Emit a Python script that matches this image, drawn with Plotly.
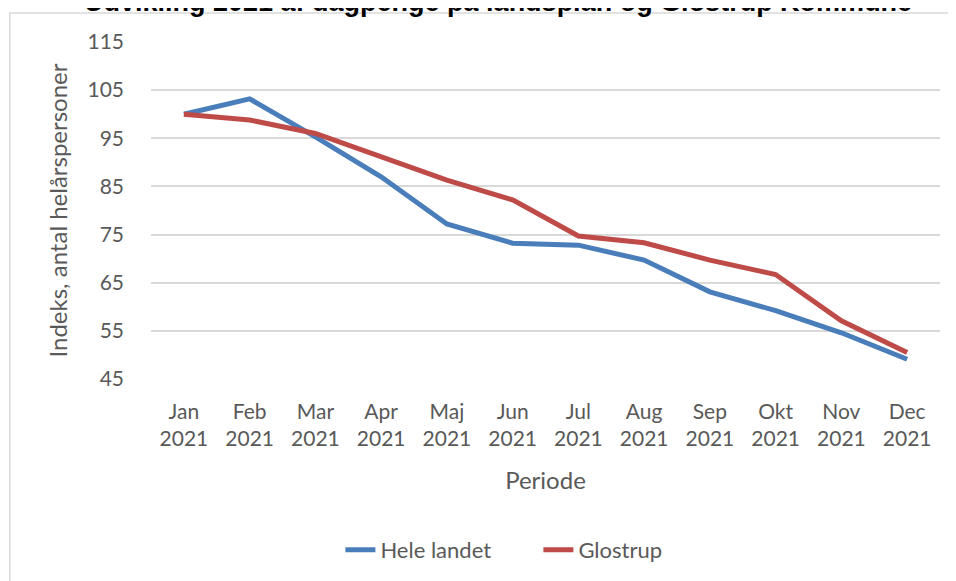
import plotly.graph_objects as go

months = ["Jan<br>2021", "Feb<br>2021", "Mar<br>2021", "Apr<br>2021", "Maj<br>2021", "Jun<br>2021",
          "Jul<br>2021", "Aug<br>2021", "Sep<br>2021", "Okt<br>2021", "Nov<br>2021", "Dec<br>2021"]
hele_landet = [100.0, 103.2, 95.3, 87.0, 77.2, 73.2, 72.8, 69.7, 63.1, 59.2, 54.6, 49.1]
glostrup = [100.0, 98.8, 96.0, 91.2, 86.3, 82.2, 74.7, 73.3, 69.7, 66.7, 57.1, 50.5]

FONT = "Lato, Carlito, Calibri, sans-serif"
TXT = "#595959"

fig = go.Figure()
fig.add_trace(go.Scatter(x=months, y=hele_landet, mode="lines", name="Hele landet",
                         line=dict(color="#4a7ebb", width=5)))
fig.add_trace(go.Scatter(x=months, y=glostrup, mode="lines", name="Glostrup",
                         line=dict(color="#be4b48", width=5)))

# page body has an 8px margin, so margins are shifted to compensate
fig.update_layout(
    width=956, height=581,
    margin=dict(l=143, r=24, t=34, b=210),
    plot_bgcolor="white", paper_bgcolor="white",
    font=dict(family=FONT, color=TXT, size=21),
    showlegend=True,
    legend=dict(orientation="h", x=0.491, xanchor="center", y=-0.507, yanchor="middle",
                entrywidth=153, entrywidthmode="pixels",
                font=dict(size=22, color=TXT)),
    xaxis=dict(
        type="category", range=[-0.5, 11.5],
        showgrid=False, showline=False, ticks="",
        tickfont=dict(size=21), ticklabelstandoff=18,
        title=dict(text="Periode", font=dict(size=24), standoff=22),
    ),
    yaxis=dict(
        range=[45, 115], tickvals=[45, 55, 65, 75, 85, 95, 105, 115],
        showgrid=True, gridcolor="#d9d9d9", gridwidth=1.5,
        zeroline=False, showline=False, ticks="",
        tickfont=dict(size=21), ticklabelstandoff=26,
        title=dict(text="Indeks, antal helårspersoner", font=dict(size=24), standoff=13),
    ),
    annotations=[dict(
        text="<b>Udvikling 2021 af dagpenge på landsplan og Glostrup Kommune</b>",
        x=0.44, y=1.119, xref="paper", yref="paper", xanchor="center", yanchor="middle",
        showarrow=False, font=dict(size=27, color="black", family="Liberation Sans, Arial, sans-serif"),
    )],
    shapes=[dict(type="rect", xref="paper", yref="paper", x0=-0.179, x1=1.05, y0=-0.65, y1=1.086,
                 line=dict(color="#d9d9d9", width=1.5), fillcolor="rgba(0,0,0,0)", layer="below")],
)

fig.write_html("out.html")
